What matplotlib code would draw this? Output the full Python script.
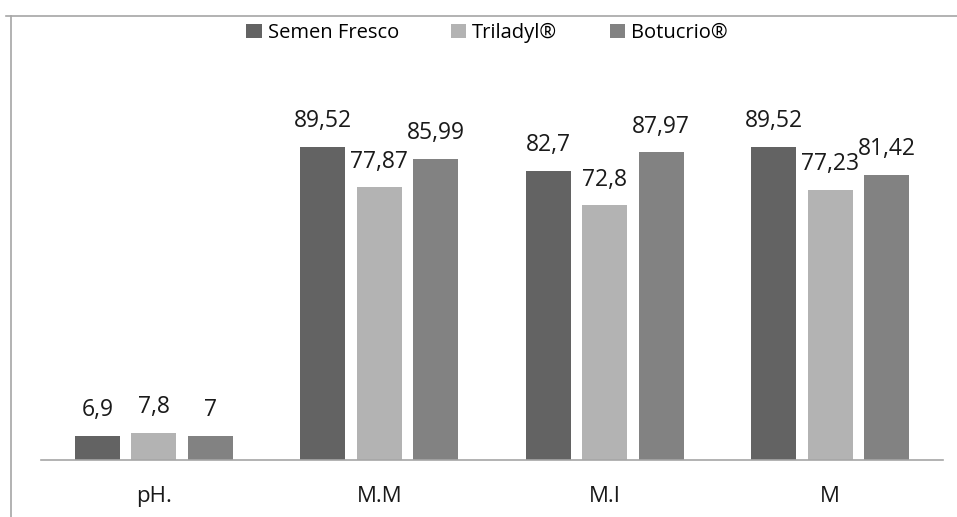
import numpy as np
import matplotlib.pyplot as plt
from matplotlib.lines import Line2D

categories = ['pH.', 'M.M', 'M.I', 'M']
series_names = ['Semen Fresco', 'Triladyl®', 'Botucrio®']
semen_fresco = [6.9, 89.52, 82.7, 89.52]
triladyl = [7.8, 77.87, 72.8, 77.23]
botucrio = [7, 85.99, 87.97, 81.42]
labels = [['6,9', '89,52', '82,7', '89,52'],
          ['7,8', '77,87', '72,8', '77,23'],
          ['7', '85,99', '87,97', '81,42']]
colors = ['#636363', '#b3b3b3', '#828282']

plt.rcParams['font.family'] = ['Open Sans', 'DejaVu Sans']

fig = plt.figure(figsize=(9.57, 5.17), dpi=100)
ax = fig.add_axes([41/957, 57/517, 902/957, 350/517])

x = np.arange(len(categories))
w = 0.2
step = 0.25
for i, vals in enumerate([semen_fresco, triladyl, botucrio]):
    pos = x + (i - 1) * step
    ax.bar(pos, vals, w, color=colors[i], label=series_names[i])
    for p, v, t in zip(pos, vals, labels[i]):
        ax.text(p, v + 5.6, t, ha='center', va='baseline', fontsize=16.5, color='#1a1a1a')

ax.set_xlim(-0.5, 3.5)
ax.set_ylim(0, 100)
ax.set_yticks([])
ax.set_xticks(x)
ax.set_xticklabels(categories, fontsize=16, color='#1a1a1a')
ax.tick_params(axis='x', length=0, pad=19)
for s in ['top', 'right', 'left']:
    ax.spines[s].set_visible(False)
ax.spines['bottom'].set_color('#a6a6a6')
ax.spines['bottom'].set_linewidth(1.2)

fig.legend(loc='center', bbox_to_anchor=(487/957, 1 - 33/517), ncol=3, frameon=False,
           fontsize=14.5, handlelength=0.75, handleheight=0.75, handletextpad=0.3,
           columnspacing=2.6)

# outer frame (cropped at right and bottom)
fig.add_artist(Line2D([6/957, 1], [1 - 16/517, 1 - 16/517], color='#a6a6a6', lw=1.2))
fig.add_artist(Line2D([11/957, 11/957], [0, 1 - 16/517], color='#a6a6a6', lw=1.2))

fig.savefig('out.png', dpi=100)
